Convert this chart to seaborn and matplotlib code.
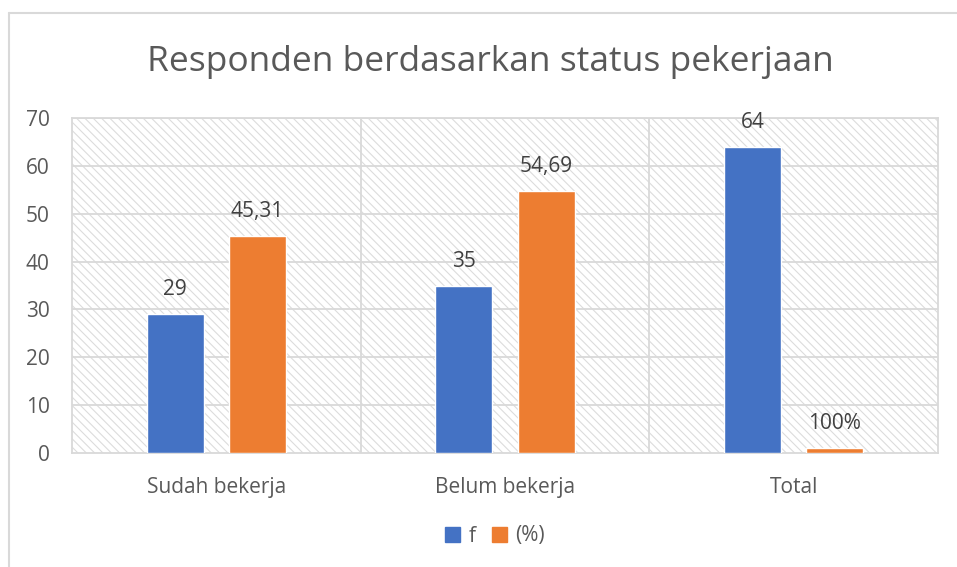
import seaborn as sns
import pandas as pd
import matplotlib.pyplot as plt
from matplotlib.patches import Rectangle
from matplotlib.lines import Line2D

categories = ["Sudah bekerja", "Belum bekerja", "Total"]
series = ["f", "(%)"]
f_vals = [29, 35, 64]
pct_vals = [45.31, 54.69, 1]
f_labels = ["29", "35", "64"]
pct_labels = ["45,31", "54,69", "100%"]
colors = ["#4472C4", "#ED7D31"]

df = pd.DataFrame({
    "kategori": categories * 2,
    "seri": [series[0]] * 3 + [series[1]] * 3,
    "nilai": f_vals + pct_vals,
})

sns.set_style("white")
plt.rcParams["font.family"] = ["Open Sans", "DejaVu Sans"]
plt.rcParams["hatch.linewidth"] = 0.8

fig = plt.figure(figsize=(9.57, 5.67), dpi=100)
ax = fig.add_axes([72 / 957, 1 - 453 / 567, 866 / 957, 335 / 567])

grey = "#d9d9d9"
txt = "#595959"

# hatched plot area
ax.add_patch(Rectangle((0, 0), 1, 1, transform=ax.transAxes, facecolor="none",
                       edgecolor="#dcdcdc", hatch="\\\\\\\\", lw=0, zorder=0))

sns.barplot(data=df, x="kategori", y="nilai", hue="seri", palette=colors,
            saturation=1, width=0.57, gap=0.31, ax=ax, legend=False, zorder=3)

ax.set_ylim(0, 70)
ax.set_xlim(-0.5, 2.5)
ax.set_yticks(range(0, 71, 10))
for y in range(10, 71, 10):
    ax.axhline(y, color=grey, lw=1.3, zorder=1)
for x in [0.5, 1.5]:
    ax.axvline(x, color=grey, lw=1.3, zorder=1)
for s in ax.spines.values():
    s.set_color(grey)
    s.set_linewidth(1.3)

ax.set_xlabel("")
ax.set_ylabel("")
ax.tick_params(axis="both", length=0, labelsize=15, labelcolor=txt)
ax.tick_params(axis="x", pad=17)
ax.tick_params(axis="y", pad=16)

for cont, labs in zip(ax.containers, [f_labels, pct_labels]):
    ax.bar_label(cont, labels=labs, padding=10, fontsize=15, color="#404040")

fig.text(490 / 957, 1 - 62 / 567, "Responden berdasarkan status pekerjaan",
         ha="center", va="center", fontsize=25.5, color=txt)

handles = [Rectangle((0, 0), 1, 1, color=c) for c in colors]
fig.legend(handles, series, loc="center", bbox_to_anchor=(495 / 957, 1 - 536 / 567),
           ncol=2, frameon=False, fontsize=15, handlelength=0.7, handleheight=0.7,
           handletextpad=0.4, columnspacing=0.8, labelcolor=txt)

# outer chart border
fig.add_artist(Line2D([8.5 / 957, 1], [1 - 12.5 / 567] * 2, color=grey, lw=1.5))
fig.add_artist(Line2D([8.5 / 957] * 2, [0, 1 - 12.5 / 567], color=grey, lw=1.5))

fig.savefig("out.png", dpi=100)
